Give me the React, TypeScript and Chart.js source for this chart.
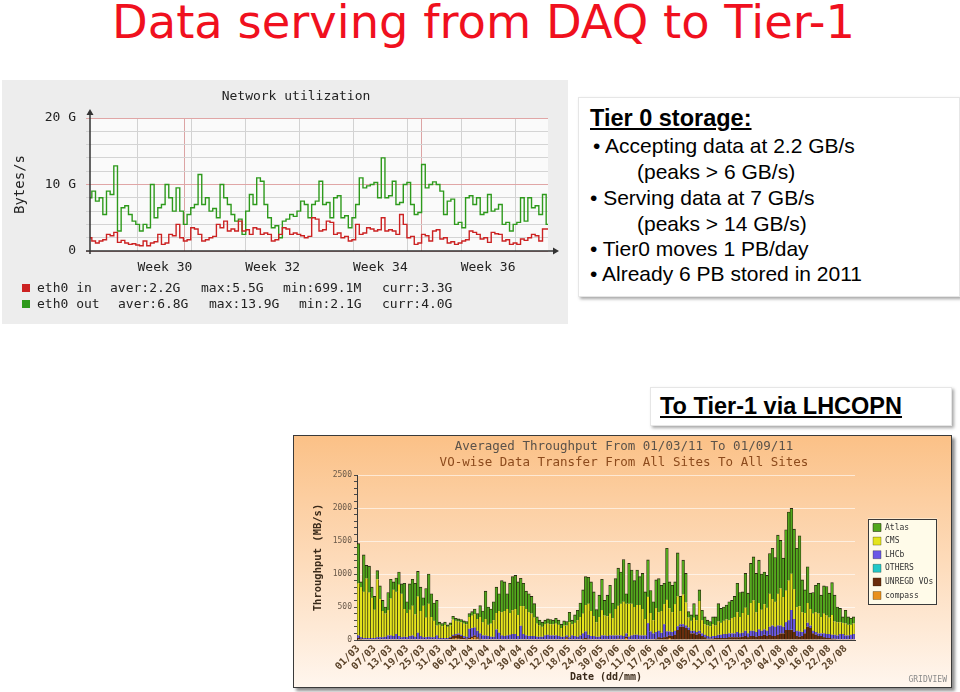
import React, { useEffect, useRef } from "react";
import { Chart, registerables } from "chart.js";

Chart.register(...registerables);

const MONO = '"DejaVu Sans Mono", monospace';
const SANS = '"Liberation Sans", Arial, sans-serif';

// ---------------- Network utilization (Tier 0) ----------------
const netOut = [
  8, 9, 7.5, 8, 5.5, 9, 8.5, 12.8, 3, 6.5,
  6.8, 5.5, 4.5, 4, 3, 4, 3.5, 10, 5, 6.5,
  7, 10, 8, 6, 9.5, 6, 4, 5.5, 6.5, 7,
  11.5, 7, 8, 6, 6.4, 5, 10, 8, 7, 5.5,
  4.5, 4.8, 2.5, 6, 8.5, 7, 11, 10.5, 7, 5,
  3.5, 3.8, 2, 4.5, 4.8, 5.5, 5.2, 6, 7.5, 7,
  5, 7, 7.5, 10.5, 7, 7.3, 5, 8, 8.3, 5,
  5.3, 3.5, 5, 7, 11, 9.5, 9.8, 10, 10.3, 8,
  14, 8, 8.3, 10.5, 7, 7.3, 10, 10.3, 7, 5.5,
  5.8, 13, 9.5, 10, 10.4, 10, 9, 5.5, 7.5, 7.8,
  4, 4.3, 3.5, 8, 8.3, 7, 8, 5.5, 5.8, 8.5,
  6, 6.3, 7, 4, 4.3, 3, 4, 4.3, 8, 4.5,
  8, 6.5, 6.8, 5.5, 8.5, 4
];
const netIn = [
  2, 1.5, 1.2, 1.5, 1.7, 2.5, 2.3, 2.8, 1.3, 1.6,
  1.2, 1, 1.1, 0.9, 0.8, 1.5, 0.8, 1.2, 1.4, 2.5,
  1, 1.2, 2.5, 2.3, 4, 2, 1.5, 1.7, 3.5, 3.3,
  2.5, 1.5, 1.7, 2, 2.2, 4, 3.5, 4.5, 3, 3.3,
  3, 4.5, 3, 3.2, 2.5, 3.5, 3.3, 2.5, 2.7, 2.5,
  1.5, 1.7, 2.5, 3.5, 3.3, 2.5, 2.7, 2.5, 2.3, 2,
  2.2, 5, 4.8, 3, 3.2, 4.5, 4.3, 2.5, 2.7, 2,
  2.2, 1.5, 1.7, 4, 2.5, 2.7, 3.5, 3.3, 3, 3.2,
  5, 3, 3.2, 3, 2.5, 5.5, 4, 2, 2.2, 1,
  1.2, 2.5, 2.3, 1.5, 3, 3.2, 1.8, 2, 1.2, 1.4,
  1, 1.2, 1.5, 1.7, 3, 2.8, 2.5, 1.8, 2, 1.3,
  2.8, 2.6, 2.5, 1.5, 1.7, 1, 1.2, 1, 1.8, 1.6,
  2, 2.5, 2.3, 1.5, 3.3, 3.3
];
const netWeekGrid = [13.1, 27.8, 42.5, 57.2, 71.9, 86.6, 101.3, 116.0];
const netMonthGrid = [25.9, 90.6];
const netWeekLabels = ["Week 30", "Week 32", "Week 34", "Week 36"];
const netWeekLabelPos = [20.45, 49.85, 79.25, 108.65];
const netYLabelValues = [0, 10, 20];
const netYLabels = ["0", "10 G", "20 G"];
const netLegendIn = ["eth0 in", "aver:2.2G", "max:5.5G", "min:699.1M", "curr:3.3G"];
const netLegendOut = ["eth0 out", "aver:6.8G", "max:13.9G", "min:2.1G", "curr:4.0G"];

// ---------------- GridView VO-wise throughput ----------------
const days = [
  "01/03","02/03","03/03","04/03","05/03","06/03","07/03","08/03","09/03","10/03",
  "11/03","12/03","13/03","14/03","15/03","16/03","17/03","18/03","19/03","20/03",
  "21/03","22/03","23/03","24/03","25/03","26/03","27/03","28/03","29/03","30/03","31/03",
  "01/04","02/04","03/04","04/04","05/04","06/04","07/04","08/04","09/04","10/04",
  "11/04","12/04","13/04","14/04","15/04","16/04","17/04","18/04","19/04","20/04",
  "21/04","22/04","23/04","24/04","25/04","26/04","27/04","28/04","29/04","30/04",
  "01/05","02/05","03/05","04/05","05/05","06/05","07/05","08/05","09/05","10/05",
  "11/05","12/05","13/05","14/05","15/05","16/05","17/05","18/05","19/05","20/05",
  "21/05","22/05","23/05","24/05","25/05","26/05","27/05","28/05","29/05","30/05","31/05",
  "01/06","02/06","03/06","04/06","05/06","06/06","07/06","08/06","09/06","10/06",
  "11/06","12/06","13/06","14/06","15/06","16/06","17/06","18/06","19/06","20/06",
  "21/06","22/06","23/06","24/06","25/06","26/06","27/06","28/06","29/06","30/06",
  "01/07","02/07","03/07","04/07","05/07","06/07","07/07","08/07","09/07","10/07",
  "11/07","12/07","13/07","14/07","15/07","16/07","17/07","18/07","19/07","20/07",
  "21/07","22/07","23/07","24/07","25/07","26/07","27/07","28/07","29/07","30/07","31/07",
  "01/08","02/08","03/08","04/08","05/08","06/08","07/08","08/08","09/08","10/08",
  "11/08","12/08","13/08","14/08","15/08","16/08","17/08","18/08","19/08","20/08",
  "21/08","22/08","23/08","24/08","25/08","26/08","27/08","28/08","29/08","30/08","31/08"
];

const compass = [
  0,0,0,0,0,0,0,0,0,0, 0,0,0,0,0,0,0,0,0,0, 0,0,0,0,0,0,0,0,0,0,
  0,0,0,0,10,20,30,20,10,10, 0,10,30,40,20,0,0,0,0,0, 0,0,0,0,0,0,0,0,0,0,
  0,0,0,0,0,0,0,0,0,0, 0,0,0,0,0,0,0,20,0,0, 0,0,0,0,0,0,0,0,0,0,
  0,0,0,0,0,0,10,0,0,30, 0,0,0,0,0,0,0,0,0,0, 0,0,0,0,0,30,0,0,0,0,
  0,0,0,0,0,0,0,0,0,0, 0,0,0,0,0,0,0,0,0,0, 0,0,0,0,0,0,0,0,0,0,
  0,0,0,0,0,0,0,0,0,0, 0,0,0,0,0,0,0,0,0,0, 0,0,0,0,0,0,0,0,0,0,
  0,0,0,0
];
const unregd = [
  30,20,10,10,10,10,10,10,10,10, 10,10,10,10,10,10,10,10,10,10, 10,10,10,10,10,10,10,10,10,10,
  10,10,10,10,20,40,40,60,50,20, 20,20,20,30,20,20,10,10,10,10, 10,10,10,10,10,10,10,10,10,10,
  10,10,10,10,10,10,10,10,10,10, 10,10,10,10,10,10,10,20,10,10, 10,10,10,20,30,20,10,10,10,10,
  10,10,10,10,10,10,10,10,10,20, 10,10,10,10,10,10,10,10,10,10, 20,40,30,40,50,40,60,80,150,200,
  200,180,150,100,100,80,100,60,40,20, 20,20,30,30,30,30,30,40,40,40, 40,40,50,60,40,60,60,50,60,60,
  80,60,80,60,60,80,100,100,150,150, 150,120,60,50,60,100,200,180,100,80, 60,60,40,30,30,20,20,10,10,10,
  10,10,10,10
];
const others = [
  0,0,0,0,0,0,0,0,0,0, 0,0,0,0,0,0,0,0,0,0, 0,0,0,0,0,0,0,0,0,0,
  0,0,0,0,0,0,0,0,0,0, 0,0,0,0,0,0,0,0,0,0, 0,0,0,0,0,0,0,0,0,0,
  5,0,0,0,0,0,0,0,0,0, 0,0,0,0,0,0,0,0,0,0, 0,0,0,0,0,0,0,0,0,0,
  0,0,0,0,0,0,0,0,0,0, 0,0,0,0,0,0,0,5,0,0, 0,0,0,0,0,0,0,0,0,0,
  0,0,0,0,0,0,0,0,0,0, 0,0,0,0,0,0,0,0,0,0, 0,0,0,0,0,0,0,0,0,0,
  0,0,0,0,0,0,0,0,0,0, 5,0,0,0,0,0,0,0,0,0, 0,0,0,0,0,0,0,0,0,0,
  0,0,0,0
];
const lhcb = [
  40,20,20,20,20,20,20,30,30,30, 40,60,60,50,80,50,30,40,30,50, 60,40,100,50,30,30,40,30,30,60,
  20,20,20,20,20,20,20,20,20,30, 30,140,130,120,100,80,60,60,50,40, 40,150,100,60,50,60,70,80,80,50,
  200,80,60,50,50,50,40,40,40,60, 70,60,60,60,50,40,40,30,30,60, 50,40,60,80,100,60,50,50,40,40,
  60,60,50,60,60,60,50,60,50,50, 40,60,70,70,60,60,60,240,120,90, 100,100,80,200,80,60,60,60,60,40,
  40,40,40,40,40,40,40,40,40,40, 30,40,30,50,50,60,60,60,60,60, 80,60,60,80,60,80,80,70,100,80,
  80,80,120,160,140,140,120,100,120,150, 300,200,80,80,60,60,60,40,40,40, 40,40,60,60,60,60,60,60,80,80,
  60,60,70,80
];
const cms = [
  790,760,700,900,690,610,430,880,580,400, 350,380,560,700,640,780,660,420,370,400, 450,340,550,380,480,300,500,310,250,150,
  200,180,200,170,170,230,200,180,190,190, 190,180,190,200,180,250,200,250,170,200, 250,250,330,350,380,400,330,360,380,320,
  300,420,400,360,340,280,200,170,150,170, 170,170,170,180,170,130,170,150,230,170, 200,250,280,300,400,470,380,300,220,300,
  380,300,300,330,260,400,450,480,520,450, 500,480,420,450,460,400,250,400,280,200, 360,280,330,300,480,350,300,400,450,200,
  450,350,150,150,200,180,450,200,160,160, 160,180,160,200,180,200,220,200,230,250, 300,250,300,350,280,420,460,300,400,320,
  380,350,500,400,380,480,560,450,480,600, 550,450,360,380,300,250,300,250,260,300, 300,250,300,280,250,300,200,200,180,170,
  180,160,150,160
];
const atlas = [
  600,80,560,200,400,160,200,130,200,160, 100,270,290,120,210,190,150,390,170,390, 400,470,380,360,120,440,450,350,270,380,
  40,40,40,30,40,50,40,40,40,40, 40,50,60,80,80,170,170,420,270,220, 280,390,260,480,440,230,450,510,510,500,
  420,350,270,280,260,210,100,80,70,60, 70,70,60,80,70,60,70,60,150,60, 120,150,210,360,430,400,440,370,190,330,
  470,230,320,430,230,460,570,480,640,150, 610,510,400,530,430,540,410,560,340,280, 430,510,390,320,780,400,410,340,660,220,
  520,440,90,90,210,80,170,150,110,80, 70,110,130,270,220,210,220,280,270,310, 440,370,320,520,330,600,660,590,650,540,
  490,490,610,770,670,890,730,590,920,1040, 990,910,890,1070,490,350,550,240,320,410, 460,330,420,440,370,490,400,230,210,90,
  200,120,100,100
];
const voNames = ["compass", "UNREGD VOs", "OTHERS", "LHCb", "CMS", "Atlas"];
const voColors = ["#e8901c", "#6a2c0c", "#22c8c8", "#6a58e6", "#e4e41c", "#52a81c"];

// ---------------- Network chart ----------------
function NetworkChart() {
  const ref = useRef<HTMLCanvasElement | null>(null);
  useEffect(() => {
    const canvas = ref.current;
    if (!canvas) return;
    const xTicks = [...netWeekGrid, ...netMonthGrid, ...netWeekLabelPos].sort((a, b) => a - b);
    const decor = {
      id: "netDecor",
      beforeDraw(chart: any) {
        const { ctx, chartArea: a } = chart;
        ctx.save();
        ctx.fillStyle = "#fafafa";
        ctx.fillRect(a.left, a.top, a.right - a.left, a.bottom - a.top);
        ctx.restore();
      },
      afterDraw(chart: any) {
        const { ctx, chartArea: a } = chart;
        ctx.save();
        ctx.strokeStyle = "#333";
        ctx.fillStyle = "#333";
        ctx.lineWidth = 1.5;
        ctx.beginPath();
        ctx.moveTo(a.left, a.bottom + 3);
        ctx.lineTo(a.left, a.top - 5);
        ctx.moveTo(a.left - 4, a.bottom);
        ctx.lineTo(a.right + 6, a.bottom);
        ctx.stroke();
        ctx.beginPath();
        ctx.moveTo(a.left - 3.5, a.top - 3);
        ctx.lineTo(a.left + 3.5, a.top - 3);
        ctx.lineTo(a.left, a.top - 9);
        ctx.closePath();
        ctx.fill();
        ctx.beginPath();
        ctx.moveTo(a.right + 5, a.bottom - 3.5);
        ctx.lineTo(a.right + 5, a.bottom + 3.5);
        ctx.lineTo(a.right + 11, a.bottom);
        ctx.closePath();
        ctx.fill();
        ctx.restore();
      },
    };
    const chart = new Chart(canvas, {
      type: "line",
      data: {
        datasets: [
          {
            label: "eth0 in",
            data: netIn.map((y, x) => ({ x, y })),
            borderColor: "#cc2222",
            borderWidth: 1.4,
            pointRadius: 0,
            stepped: "middle",
            fill: false,
          },
          {
            label: "eth0 out",
            data: netOut.map((y, x) => ({ x, y })),
            borderColor: "#2e9a1c",
            borderWidth: 1.4,
            pointRadius: 0,
            stepped: "middle",
            fill: false,
          },
        ],
      },
      options: {
        animation: false,
        responsive: false,
        maintainAspectRatio: false,
        layout: { padding: { left: 42, right: 20, top: 0, bottom: 0 } },
        plugins: {
          legend: { display: false },
          tooltip: { enabled: false },
          title: {
            display: true,
            text: "Network utilization",
            color: "#222",
            font: { family: MONO, size: 13, weight: "normal" },
            padding: { top: 9.2, bottom: 13.2 },
          },
        },
        scales: {
          x: {
            type: "linear",
            min: 0,
            max: 125,
            afterBuildTicks: (s: any) => {
              s.ticks = xTicks.map((v) => ({ value: v }));
            },
            afterFit: (s: any) => {
              s.height = 73;
            },
            ticks: {
              autoSkip: false,
              maxRotation: 0,
              minRotation: 0,
              padding: 9,
              color: "#222",
              font: { family: MONO, size: 13 },
              callback: (v: any) => {
                const i = netWeekLabelPos.indexOf(v);
                return i >= 0 ? netWeekLabels[i] : "";
              },
            },
            grid: {
              drawTicks: false,
              color: (c: any) => {
                const v = c.tick ? c.tick.value : -1;
                if (netMonthGrid.indexOf(v) >= 0) return "#dca4a4";
                if (netWeekGrid.indexOf(v) >= 0) return "#d2d2d2";
                return "rgba(0,0,0,0)";
              },
            },
            border: { display: false },
          },
          y: {
            min: 0,
            max: 20,
            afterFit: (s: any) => {
              s.width = 46;
            },
            ticks: {
              stepSize: 2,
              autoSkip: false,
              padding: 10,
              color: "#222",
              font: { family: MONO, size: 13 },
              callback: (v: any) => {
                const i = netYLabelValues.indexOf(v);
                return i >= 0 ? netYLabels[i] : "";
              },
            },
            grid: {
              drawTicks: true,
              tickLength: 4,
              color: (c: any) => (c.tick && c.tick.value % 10 === 0 ? "#e0a6a6" : "#d4d4d4"),
            },
            border: { display: false },
            title: {
              display: true,
              text: "Bytes/s",
              color: "#222",
              font: { family: MONO, size: 14 },
              padding: { top: -32.4, bottom: 0 },
            },
          },
        },
      },
      plugins: [decor],
    });
    return () => chart.destroy();
  }, []);
  return <canvas ref={ref} width={566} height={244} style={{ display: "block", width: 566, height: 244 }} />;
}

// ---------------- GridView bar chart ----------------
const LEGEND_SHIFT = 12.4;

function ThroughputChart() {
  const ref = useRef<HTMLCanvasElement | null>(null);
  useEffect(() => {
    const canvas = ref.current;
    if (!canvas) return;
    const series = [compass, unregd, others, lhcb, cms, atlas];
    const decor = {
      id: "gridviewDecor",
      afterUpdate(chart: any) {
        const lg = chart.legend;
        if (lg && lg.legendHitBoxes) {
          lg.left += LEGEND_SHIFT;
          lg.right += LEGEND_SHIFT;
          lg.legendHitBoxes.forEach((h: any) => {
            h.left += LEGEND_SHIFT;
          });
        }
      },
      beforeDraw(chart: any) {
        const { ctx, width, height } = chart;
        ctx.save();
        const g = ctx.createLinearGradient(0, 0, 0, height);
        g.addColorStop(0, "#fbc187");
        g.addColorStop(0.5, "#fddbba");
        g.addColorStop(1, "#fff6ee");
        ctx.fillStyle = g;
        ctx.fillRect(0, 0, width, height);
        const hb = chart.legend && chart.legend.legendHitBoxes;
        if (hb && hb.length) {
          const l = Math.min(...hb.map((h: any) => h.left)) - 5;
          const r = Math.max(...hb.map((h: any) => h.left + h.width)) + 4;
          const t = Math.min(...hb.map((h: any) => h.top)) - 5;
          const b = Math.max(...hb.map((h: any) => h.top + h.height)) + 5;
          ctx.fillStyle = "#fffbe9";
          ctx.fillRect(l, t, r - l, b - t);
          ctx.strokeStyle = "#3a3a3a";
          ctx.lineWidth = 1;
          ctx.strokeRect(Math.round(l) + 0.5, Math.round(t) + 0.5, Math.round(r - l) - 1, Math.round(b - t) - 1);
        }
        ctx.restore();
      },
      afterDraw(chart: any) {
        const { ctx, width, height } = chart;
        ctx.save();
        ctx.font = `8px ${MONO}`;
        ctx.fillStyle = "#8a8a8a";
        ctx.textAlign = "right";
        ctx.textBaseline = "middle";
        ctx.fillText("GRIDVIEW", width - 4, height - 7);
        ctx.restore();
      },
    };
    const chart = new Chart(canvas, {
      type: "bar",
      data: {
        labels: days,
        datasets: voNames.map((name, k) => ({
          label: name,
          data: series[k],
          backgroundColor: voColors[k],
          borderColor: "rgba(20,20,0,0.9)",
          borderWidth: { left: 0.65, right: 0.65, top: k === 5 ? 0.9 : 0, bottom: 0 },
          borderSkipped: false,
          barPercentage: 1,
          categoryPercentage: 1,
        })),
      },
      options: {
        animation: false,
        responsive: false,
        maintainAspectRatio: false,
        layout: { padding: { left: 23.2, right: 20.2, top: 0, bottom: 0 } },
        plugins: {
          tooltip: { enabled: false },
          title: {
            display: true,
            text: "Averaged Throughput From 01/03/11 To 01/09/11",
            color: "#5a524a",
            font: { family: MONO, size: 12.5, weight: "normal" },
            padding: { top: 3.5, bottom: 1 },
          },
          subtitle: {
            display: true,
            text: "VO-wise Data Transfer From All Sites To All Sites",
            color: "#8c4a1c",
            font: { family: MONO, size: 12.5, weight: "normal" },
            padding: { top: 0, bottom: 4.5 },
          },
          legend: {
            display: true,
            position: "right",
            reverse: true,
            labels: {
              boxWidth: 8,
              boxHeight: 8,
              padding: 5.6,
              color: "#333",
              font: { family: MONO, size: 8 },
            },
          },
        },
        scales: {
          x: {
            stacked: true,
            afterFit: (s: any) => {
              s.height = 47;
            },
            grid: { display: false, drawTicks: false },
            border: { display: true, color: "#3a3a3a" },
            ticks: {
              autoSkip: false,
              minRotation: 45,
              maxRotation: 45,
              padding: 3,
              color: "#5a4228",
              font: { family: MONO, size: 10, weight: "bold" },
              callback: (_v: any, i: number) => (i % 6 === 0 ? days[i] : ""),
            },
            title: {
              display: true,
              text: "Date (dd/mm)",
              color: "#3a2a1a",
              font: { family: MONO, size: 10, weight: "bold" },
              padding: { top: 0, bottom: 4 },
            },
          },
          y: {
            stacked: true,
            min: 0,
            max: 2500,
            afterFit: (s: any) => {
              s.width = 39.8;
            },
            ticks: {
              stepSize: 100,
              autoSkip: false,
              padding: 2,
              color: "#6a5a4a",
              font: { family: MONO, size: 8 },
              callback: (v: any) => (v % 500 === 0 ? String(v) : ""),
            },
            grid: {
              drawTicks: true,
              tickLength: 3,
              tickColor: "#4a4a4a",
              color: (c: any) =>
                c.tick && c.tick.value % 500 === 0 && c.tick.value > 0 ? "rgba(255,255,255,0.6)" : "rgba(0,0,0,0)",
            },
            border: { display: true, color: "#3a3a3a" },
            title: {
              display: true,
              text: "Throughput (MB/s)",
              color: "#3a2a1a",
              font: { family: MONO, size: 10.5, weight: "bold" },
              padding: { top: -5.5, bottom: 0 },
            },
          },
        },
      },
      plugins: [decor],
    });
    return () => chart.destroy();
  }, []);
  return <canvas ref={ref} width={657} height={251} style={{ display: "block", width: 657, height: 251 }} />;
}

const abs = (left: number, top: number, extra: any = {}) => ({
  position: "absolute" as const,
  left,
  top,
  whiteSpace: "nowrap" as const,
  ...extra,
});

export default function App() {
  const legendX1 = [37, 110, 201, 283, 382];
  const legendX2 = [37, 118, 209, 299, 382];
  const bodyText = { fontFamily: SANS, fontSize: 21, lineHeight: "24px", color: "#000" };
  return (
    <div
      style={{
        position: "fixed",
        left: 0,
        top: 0,
        width: 960,
        height: 692,
        background: "#fff",
        overflow: "hidden",
        fontFamily: SANS,
      }}
    >
      <div
        style={abs(112, -3, {
          fontFamily: '"DejaVu Sans", sans-serif',
          fontSize: 46.4,
          lineHeight: "50px",
          color: "#f0101e",
        })}
      >
        Data serving from DAQ to Tier-1
      </div>

      <div style={abs(2, 80, { width: 566, height: 244, background: "#ededed" })}>
        <NetworkChart />
        <div style={abs(20, 204, { width: 8, height: 8, background: "#cc2222" })} />
        <div style={abs(20, 220, { width: 8, height: 8, background: "#2e9a1c" })} />
        {netLegendIn.map((t, i) => (
          <div key={"a" + i} style={abs(legendX1[i] - 2, 200, { fontFamily: MONO, fontSize: 13, lineHeight: "16px", color: "#222" })}>
            {t}
          </div>
        ))}
        {netLegendOut.map((t, i) => (
          <div key={"b" + i} style={abs(legendX2[i] - 2, 216, { fontFamily: MONO, fontSize: 13, lineHeight: "16px", color: "#222" })}>
            {t}
          </div>
        ))}
      </div>

      <div
        style={abs(578, 97, {
          width: 380,
          height: 198,
          background: "#fff",
          border: "1px solid #e6e6e6",
          boxShadow: "2px 2px 3px rgba(0,0,0,0.35)",
        })}
      />
      <div
        style={abs(590, 105, {
          fontFamily: SANS,
          fontSize: 23.5,
          lineHeight: "26px",
          fontWeight: "bold",
          textDecoration: "underline",
          color: "#000",
        })}
      >
        Tier 0 storage:
      </div>
      <div style={abs(593, 134, bodyText)}>• Accepting data at 2.2 GB/s</div>
      <div style={abs(637, 160, bodyText)}>(peaks &gt; 6 GB/s)</div>
      <div style={abs(590, 186, bodyText)}>• Serving data at 7 GB/s</div>
      <div style={abs(637, 212, bodyText)}>(peaks &gt; 14 GB/s)</div>
      <div style={abs(590, 237, bodyText)}>• Tier0 moves 1 PB/day</div>
      <div style={abs(590, 262, bodyText)}>• Already 6 PB stored in 2011</div>

      <div
        style={abs(650, 387, {
          width: 300,
          height: 37,
          background: "#fff",
          border: "1px solid #e6e6e6",
          boxShadow: "2px 2px 3px rgba(0,0,0,0.35)",
        })}
      />
      <div
        style={abs(660, 393, {
          fontFamily: SANS,
          fontSize: 23.5,
          lineHeight: "26px",
          fontWeight: "bold",
          textDecoration: "underline",
          color: "#000",
        })}
      >
        To Tier-1 via LHCOPN
      </div>

      <div
        style={abs(293, 435, {
          width: 659,
          height: 253,
          boxSizing: "border-box",
          border: "1px solid #3a3a3a",
          boxShadow: "3px 3px 3px rgba(0,0,0,0.45)",
          background: "#fff6ee",
        })}
      >
        <ThroughputChart />
      </div>
    </div>
  );
}
